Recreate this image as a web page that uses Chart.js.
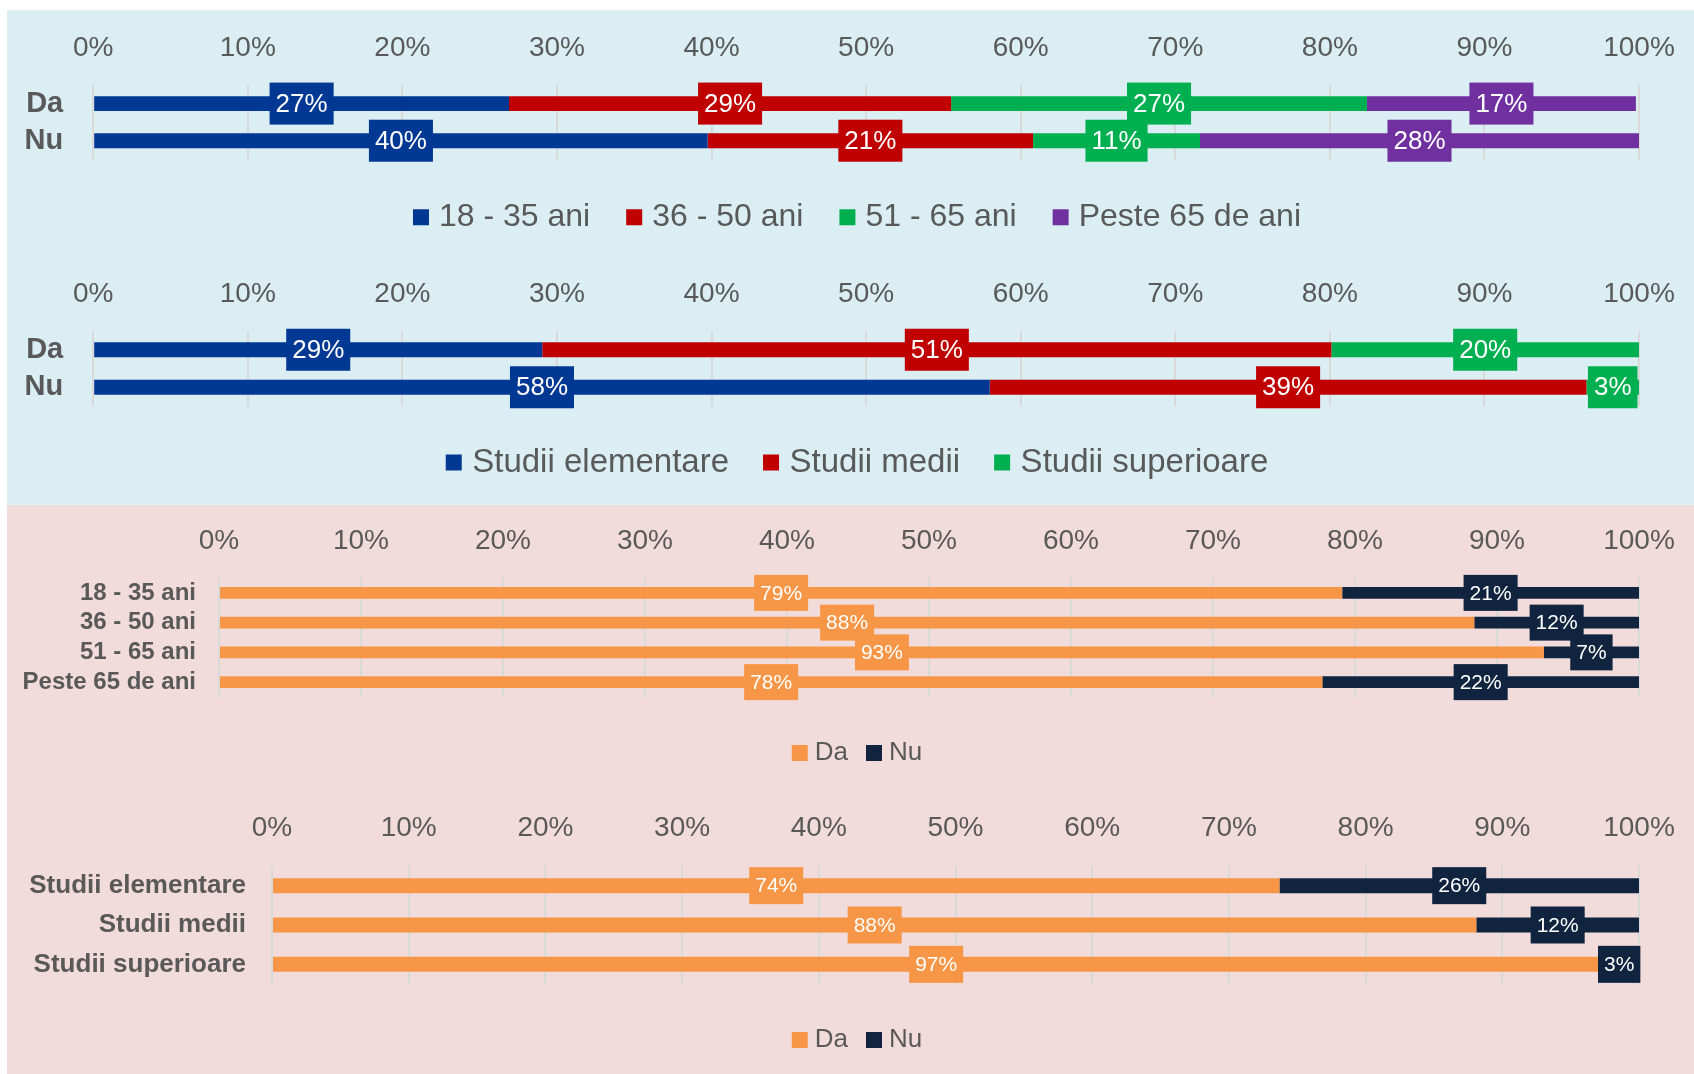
<!DOCTYPE html>
<html>
<head>
<meta charset="utf-8">
<script src="https://cdn.jsdelivr.net/npm/chart.js@4.4.1/dist/chart.umd.min.js"></script>
<style>
  body { margin: 0; background: #fff; width: 1694px; height: 1074px; overflow: hidden; position: relative; }
  .panel { position: absolute; left: 7px; width: 1687px; }
  #blue { top: 10px; height: 495px; background: #DAEEF3; }
  #pink { top: 505px; height: 569px; background: #F2DCDB; }
  canvas { position: absolute; left: 0; }
</style>
</head>
<body>
<div class="panel" id="blue"></div>
<div class="panel" id="pink"></div>
<canvas id="ageChart" width="1720" height="245" style="top:10px"></canvas>
<canvas id="eduChart" width="1720" height="250" style="top:255px"></canvas>
<canvas id="ageAnswerChart" width="1720" height="275" style="top:505px"></canvas>
<canvas id="eduAnswerChart" width="1720" height="294" style="top:780px"></canvas>
<script>
// categories
const answers = ["Da", "Nu"];
const ageGroups = ["18 - 35 ani", "36 - 50 ani", "51 - 65 ani", "Peste 65 de ani"];
const eduGroups = ["Studii elementare", "Studii medii", "Studii superioare"];

// top chart: age structure of the Da / Nu answers (%)
const age18_35 = [26.9, 39.75];
const age36_50 = [28.6, 21.05];
const age51_65 = [26.9, 10.8];
const age65plus = [17.4, 28.4];

// second chart: education structure of the Da / Nu answers (%)
const eduElementare = [29.05, 58.0];
const eduMedii = [51.05, 38.6];
const eduSuperioare = [19.9, 3.4];

// third chart: Da / Nu inside each age group (%)
const daByAge = [79.1, 88.4, 93.3, 77.7];
const nuByAge = [20.9, 11.6, 6.7, 22.3];

// fourth chart: Da / Nu inside each education level (%)
const daByEdu = [73.7, 88.1, 97.1];
const nuByEdu = [26.3, 11.9, 2.9];

// x axis ticks
const pctMin = 0;
const pctMax = 100;
const pctStep = 10;

const FONT = "'Liberation Sans', Arial, sans-serif";
const GREY = "#595959";
const PLOT_RIGHT = 1639;

// boxed value labels in the middle of every segment
const boxLabels = {
  id: "boxLabels",
  afterDatasetsDraw(chart, args, opts) {
    const ctx = chart.ctx;
    ctx.save();
    ctx.font = opts.size + "px " + FONT;
    ctx.textAlign = "center";
    ctx.textBaseline = "middle";
    chart.data.datasets.forEach((ds, di) => {
      const meta = chart.getDatasetMeta(di);
      meta.data.forEach((bar, i) => {
        const p = bar.getProps(["x", "base", "y"], true);
        const cx = (p.x + p.base) / 2;
        const txt = Math.round(ds.data[i]) + "%";
        const w = ctx.measureText(txt).width + 2 * opts.pad;
        ctx.fillStyle = ds.backgroundColor;
        ctx.fillRect(cx - w / 2, p.y - opts.h / 2, w, opts.h);
        ctx.fillStyle = "#fff";
        ctx.fillText(txt, cx, p.y + 1);
      });
    });
    ctx.restore();
  }
};

function makeChart(id, o) {
  const canvas = document.getElementById(id);
  const H = canvas.height;
  const W = canvas.width;
  const legendH = o.legendSize + o.legendGap + 10;
  const spacer = Math.max(0, o.legendY - o.bottom - o.legendGap - o.legendSize / 2);
  const padBottom = H - (o.bottom + spacer + legendH);
  const tickPad = o.top - o.tickY - 0.6 * o.tickSize - 3;

  return new Chart(canvas, {
    type: "bar",
    data: {
      labels: o.labels,
      datasets: o.series.map((s) => ({
        label: s.label,
        data: s.data,
        backgroundColor: s.color,
        borderWidth: 0,
        xAxisID: "x",
        yAxisID: "y",
        categoryPercentage: 1,
        barPercentage: o.barPct
      }))
    },
    options: {
      indexAxis: "y",
      responsive: false,
      animation: false,
      layout: { padding: { left: 0, right: 0, top: 0, bottom: padBottom } },
      scales: {
        x: {
          position: "top",
          stacked: true,
          min: pctMin,
          max: pctMax,
          grid: { color: "#D9D9D9", lineWidth: 2, drawTicks: false },
          border: { display: false },
          ticks: {
            stepSize: pctStep,
            padding: tickPad,
            maxRotation: 0,
            color: GREY,
            font: { family: FONT, size: o.tickSize },
            callback: (v) => v + "%"
          },
          afterFit(s) { s.height = o.top; s.paddingLeft = 0; s.paddingRight = 0; }
        },
        y: {
          stacked: true,
          grid: { display: false, drawTicks: false },
          border: { display: false },
          ticks: {
            autoSkip: false,
            padding: o.catGap,
            color: GREY,
            font: { family: FONT, size: o.catSize, weight: "bold" }
          },
          afterFit(s) { s.width = o.left; }
        },
        edge: {
          type: "linear",
          position: "right",
          display: true,
          grid: { display: false, drawTicks: false },
          border: { display: false },
          ticks: { display: false },
          afterFit(s) { s.width = W - PLOT_RIGHT; }
        },
        gap: {
          type: "linear",
          position: "bottom",
          display: true,
          grid: { display: false, drawTicks: false },
          border: { display: false },
          ticks: { display: false },
          afterFit(s) { s.height = spacer; }
        }
      },
      plugins: {
        legend: {
          position: "bottom",
          labels: {
            usePointStyle: true,
            pointStyle: "rect",
            boxWidth: 4,
            boxHeight: 16,
            padding: o.legendGap,
            color: GREY,
            font: { family: FONT, size: o.legendSize }
          }
        },
        tooltip: { enabled: false },
        boxLabels: { size: o.labelSize, h: o.labelH, pad: 6 }
      }
    },
    plugins: [boxLabels]
  });
}

window.onload = function () {
  makeChart("ageChart", {
    labels: answers,
    series: [
      { label: ageGroups[0], data: age18_35, color: "#003893" },
      { label: ageGroups[1], data: age36_50, color: "#C00000" },
      { label: ageGroups[2], data: age51_65, color: "#00B050" },
      { label: ageGroups[3], data: age65plus, color: "#7030A0" }
    ],
    top: 75, bottom: 149.3, left: 93.2, tickY: 35, legendY: 205,
    tickSize: 28, catSize: 29, catGap: 30, legendSize: 32, legendGap: 42,
    labelSize: 26, labelH: 42, barPct: 0.4
  });

  makeChart("eduChart", {
    labels: answers,
    series: [
      { label: eduGroups[0], data: eduElementare, color: "#003893" },
      { label: eduGroups[1], data: eduMedii, color: "#C00000" },
      { label: eduGroups[2], data: eduSuperioare, color: "#00B050" }
    ],
    top: 76, bottom: 151, left: 93.2, tickY: 36.7, legendY: 207,
    tickSize: 28, catSize: 29, catGap: 30, legendSize: 33, legendGap: 40,
    labelSize: 26, labelH: 42, barPct: 0.4
  });

  makeChart("ageAnswerChart", {
    labels: ageGroups,
    series: [
      { label: answers[0], data: daByAge, color: "#F79646" },
      { label: answers[1], data: nuByAge, color: "#10243F" }
    ],
    top: 73, bottom: 192, left: 219, tickY: 33, legendY: 248,
    tickSize: 28, catSize: 24, catGap: 23, legendSize: 26, legendGap: 24,
    labelSize: 21, labelH: 36, barPct: 0.4
  });

  makeChart("eduAnswerChart", {
    labels: eduGroups,
    series: [
      { label: answers[0], data: daByEdu, color: "#F79646" },
      { label: answers[1], data: nuByEdu, color: "#10243F" }
    ],
    top: 86, bottom: 204, left: 272, tickY: 45, legendY: 260,
    tickSize: 28, catSize: 26, catGap: 26, legendSize: 26, legendGap: 24,
    labelSize: 21, labelH: 37, barPct: 0.38
  });
};
</script>
</body>
</html>
